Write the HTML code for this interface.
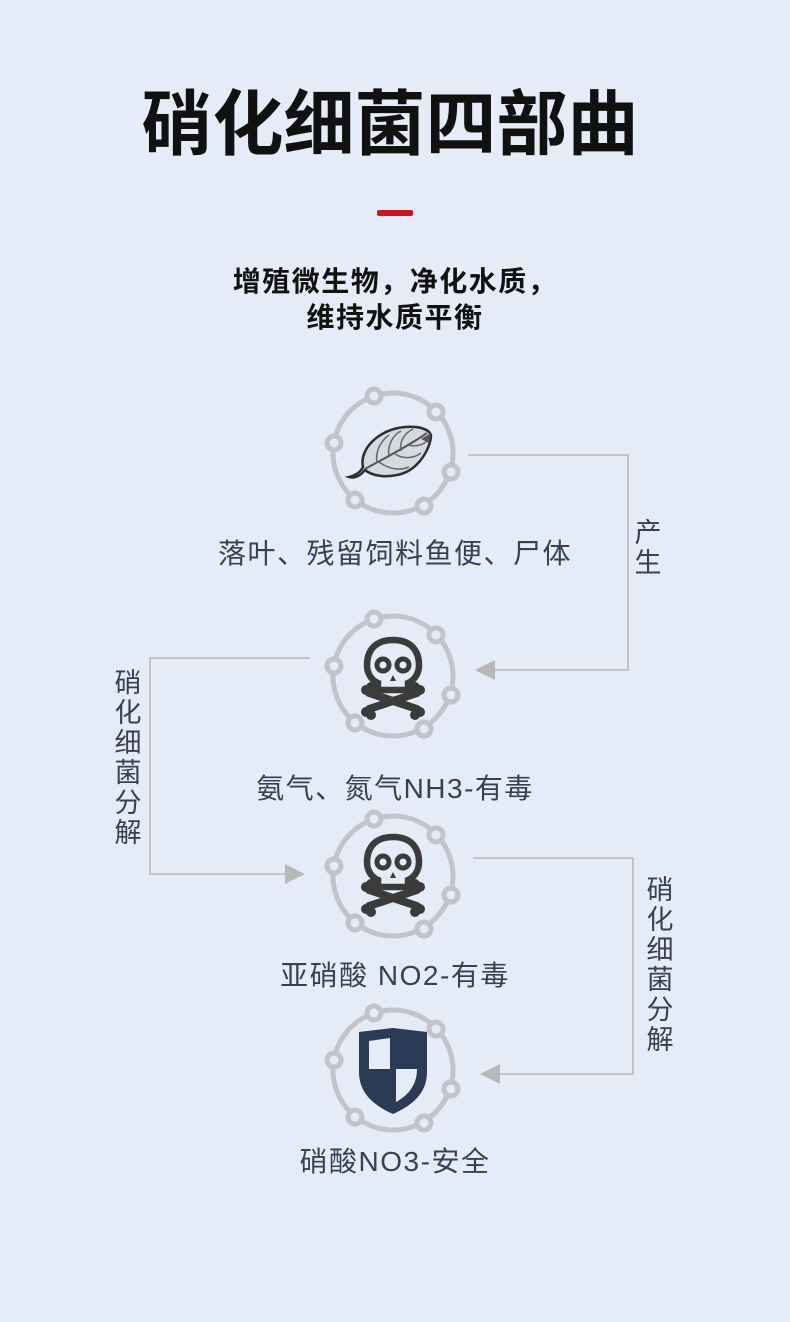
<!DOCTYPE html>
<html><head><meta charset="utf-8"><style>
body{margin:0;width:790px;height:1322px;background:#e6ebf8;overflow:hidden;font-family:"Liberation Sans","Noto Sans CJK SC",sans-serif;position:relative}
.t{position:absolute;left:0;width:790px;text-align:center}
.l{font-size:28px;color:#3a4050;letter-spacing:1.5px}
.v{position:absolute;font-size:27px;color:#3a4050;line-height:30px;width:30px;text-align:center}
</style></head><body>
<div class="t" style="top:68px;left:-5px;font-size:71px;font-weight:700;color:#111;letter-spacing:0px;font-family:'Noto Sans CJK SC',sans-serif">硝化细菌四部曲</div>
<div style="position:absolute;left:377px;top:210px;width:36px;height:6px;background:#c8161e;border-radius:2px"></div>
<div class="t" style="top:264px;font-size:28px;font-weight:700;color:#111;line-height:36px;letter-spacing:1.5px">增殖微生物，净化水质，<br>维持水质平衡</div>
<svg width="790" height="1322" style="position:absolute;left:0;top:0">
<defs>
<g id="ring" fill="none" stroke="#c2c4cb" stroke-width="5">
<circle r="60"/>
<g fill="#e6ebf8"><circle cx="-19" cy="-57" r="7"/><circle cx="43" cy="-41" r="7"/><circle cx="-59" cy="-10" r="7"/><circle cx="58" cy="19" r="7"/><circle cx="-38" cy="47" r="7"/><circle cx="31" cy="53" r="7"/></g>
</g>
<g id="skull">
<path d="M0,-33 C-20,-33 -26,-20 -26,-8 C-26,2 -20,8 -15,10 L-15,17 L15,17 L15,10 C20,8 26,2 26,-8 C26,-20 20,-33 0,-33Z" fill="none" stroke="#3b3b3b" stroke-width="6.5"/>
<circle cx="-10" cy="-8" r="6" fill="none" stroke="#3b3b3b" stroke-width="5"/>
<circle cx="10" cy="-8" r="6" fill="none" stroke="#3b3b3b" stroke-width="5"/>
<path d="M0,2 L-3,8 L3,8Z" fill="#3b3b3b"/>
<g stroke="#3b3b3b" stroke-width="8" stroke-linecap="round"><line x1="-24" y1="20" x2="24" y2="36"/><line x1="24" y1="20" x2="-24" y2="36"/></g>
<g fill="#3b3b3b"><circle cx="-27" cy="17" r="5"/><circle cx="-22" cy="14" r="5"/><circle cx="27" cy="17" r="5"/><circle cx="22" cy="14" r="5"/><circle cx="-27" cy="39" r="5"/><circle cx="-22" cy="42" r="5"/><circle cx="27" cy="39" r="5"/><circle cx="22" cy="42" r="5"/></g>
</g>
</defs>
<use href="#ring" x="393" y="453"/>
<use href="#ring" x="393" y="676"/>
<use href="#ring" x="393" y="876"/>
<use href="#ring" x="393" y="1070"/>
<g transform="translate(393,453)">
<path d="M-44,24 C-36,22 -32,18 -30,14 C-34,-4 -14,-24 12,-26 C26,-27 36,-24 38,-18 C38,-6 26,18 4,22 C-10,25 -22,22 -28,17 C-32,22 -38,26 -44,24Z" fill="#d6d9e0" stroke="#2e2e2e" stroke-width="2.5"/>
<path d="M-28,16 C-10,6 14,-6 34,-20" fill="none" stroke="#555" stroke-width="2"/>
<g fill="none" stroke="#666" stroke-width="1.5"><path d="M-16,10 C-18,-2 -12,-12 -4,-18"/><path d="M-4,4 C-6,-8 0,-18 8,-22"/><path d="M8,-2 C6,-12 12,-20 20,-24"/><path d="M-14,9 C-4,16 6,18 16,14"/><path d="M2,1 C10,6 20,6 28,0"/><path d="M16,-8 C22,-6 30,-8 34,-12"/></g>
<path d="M28,-14 L38,-20 L36,-10Z" fill="#555"/>
</g>
<use href="#skull" x="393" y="673"/>
<use href="#skull" x="393" y="870"/>
<g transform="translate(393,1072)">
<path d="M-34,-40 L0,-44 L34,-40 L34,0 C34,22 18,34 0,42 C-18,34 -34,22 -34,0Z" fill="#2b3a55"/>
<path d="M-24,-31 L-3,-34 L-3,-3 L-24,-3Z" fill="#e6ebf8"/>
<path d="M3,-3 L24,-3 C24,14 14,24 3,30Z" fill="#e6ebf8"/>
</g>
<g fill="none" stroke="#b8b8b8" stroke-width="1.5">
<polyline points="468,455 628,455 628,670 495,670"/>
<polyline points="310,658 150,658 150,874 285,874"/>
<polyline points="473,858 633,858 633,1074 500,1074"/>
</g>
<g fill="#b8b8b8">
<path d="M475,670 L495,660 L495,680Z"/>
<path d="M305,874 L285,864 L285,884Z"/>
<path d="M480,1074 L500,1064 L500,1084Z"/>
</g>
</svg>
<div class="t l" style="top:532px">落叶、残留饲料鱼便、尸体</div>
<div class="t l" style="top:767px">氨气、氮气NH3-有毒</div>
<div class="t l" style="top:954px">亚硝酸 NO2-有毒</div>
<div class="t l" style="top:1140px">硝酸NO3-安全</div>
<div class="v" style="left:633px;top:518px">产<br>生</div>
<div class="v" style="left:113px;top:668px">硝<br>化<br>细<br>菌<br>分<br>解</div>
<div class="v" style="left:645px;top:875px">硝<br>化<br>细<br>菌<br>分<br>解</div>
</body></html>
